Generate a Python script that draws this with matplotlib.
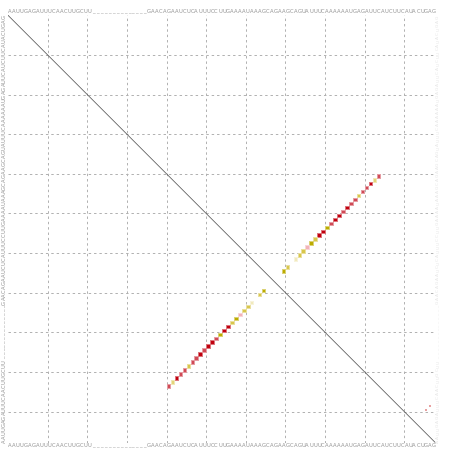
import numpy as np
import matplotlib
matplotlib.use('Agg')
import matplotlib.pyplot as plt

# Sequence shown along the edges (gap shown as underscores)
seq_head = 'AAUUGAGAUUUCAACUUGCUU'
seq_gap = '_' * 14
seq_tail = 'GAACAGAAUCUCAUUUCCUUGAAAAUAAAGCAGAAGCAGUAUUUCAAAAAAUGAGAUUCAUCUUCAUACUGAG'
sequence = seq_head + seq_gap + seq_tail
n = len(sequence)

# Base pairs (i, j), 1-based, and their colour class
pair_i = [41, 42, 43, 44, 45, 46, 47, 48, 49, 50, 51, 52, 53, 54, 55, 56,
          57, 58, 59, 60, 61, 62, 64, 65]
pair_j = [94, 93, 92, 91, 90, 89, 88, 87, 86, 85, 84, 83, 82, 81, 80, 79,
          78, 77, 76, 75, 74, 73, 71, 70]
pair_cls = ['r', 'ly', 'dr', 'r', 'r', 'y', 'r', 'r', 'dr', 'r', 'dr', 'dr',
            'r', 'o', 'dr', 'dr', 'y', 'o', 'p', 'y', 'y', 'pl', 'y', 'o']

# faint low-probability pairs in the corner
weak_i = [106, 107]
weak_j = [100, 99]

palette = {
    'dr': '#c0000e',
    'r': '#d04a55',
    'p': '#f2b3b8',
    'y': '#d8c64c',
    'ly': '#e3d57a',
    'o': '#bcab00',
    'pl': '#f1e9bd',
}

def lighten(c, f=0.45):
    rgb = np.array(matplotlib.colors.to_rgb(c))
    return tuple(rgb + (1 - rgb) * f)

fig = plt.figure(figsize=(4.52, 4.51), dpi=100)
ax = fig.add_axes([8 / 452, 7.7 / 451, 428 / 452, 428 / 451])
ax.set_xlim(0, n)
ax.set_ylim(n, 0)
ax.axis('off')

# dashed grid every 10 positions
for g in range(10, n, 10):
    ax.axvline(g, color='#b0b0b0', lw=0.7, ls=(0, (2.5, 3)), zorder=1)
    ax.axhline(g, color='#b0b0b0', lw=0.7, ls=(0, (2.5, 3)), zorder=1)

# main diagonal
ax.plot([0, n], [0, n], color='#555555', lw=0.55, zorder=2)

# pairs and their mirror
cols = [palette[c] for c in pair_cls]
edges = [lighten(c) for c in cols]
xs = np.array(pair_i + pair_j) - 0.5
ys = np.array(pair_j + pair_i) - 0.5
ax.scatter(xs, ys, marker='s', s=6.5, c=cols + cols, edgecolors=edges + edges,
           linewidths=0.7, zorder=3)
ax.scatter(np.array(weak_i) - 0.5, np.array(weak_j) - 0.5, marker='s', s=0.8,
           c='#e8a0a0', linewidths=0, zorder=3)

# sequence labels
txt = dict(fontsize=3.8, color='#939393', ha='center', va='center',
           clip_on=False)
for k, ch in enumerate(sequence):
    p = k + 0.5
    ax.text(p, -0.95, ch, **txt)
    ax.text(p, n + 0.6, ch, **txt)
    ax.text(-1.0, n - p, ch, rotation=90, **txt)
    ax.text(n + 0.55, n - p, ch, rotation=90, fontsize=3.2, color='#e6e6e6',
            ha='center', va='center', clip_on=False)

fig.savefig('out.png', dpi=100)
